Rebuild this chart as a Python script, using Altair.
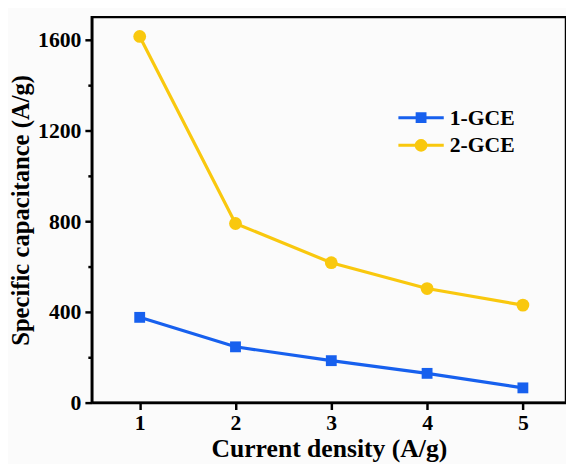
import altair as alt
import pandas as pd

density = [1, 2, 3, 4, 5]
cap_gce1 = [376, 246, 185, 129, 65]
cap_gce2 = [1615, 790, 617, 503, 430]
series_names = ["1-GCE", "2-GCE"]
series_colors = ["#1760EE", "#F9C80E"]
series_shapes = ["square", "circle"]
legend_paths = [
    "M-2.3,-0.15H-0.55V-0.55H0.55V-0.15H2.3V0.15H0.55V0.55H-0.55V0.15H-2.3Z",
    "M-2.3,-0.15H-0.632A0.65,0.65 0 0 1 0.632,-0.15H2.3V0.15H0.632A0.65,0.65 0 0 1 -0.632,0.15H-2.3Z",
]
x_ticks = [1, 1.5, 2, 2.5, 3, 3.5, 4, 4.5, 5]
y_ticks = [0, 200, 400, 600, 800, 1000, 1200, 1400, 1600]

df = pd.DataFrame({
    "density": density + density,
    "cap": cap_gce1 + cap_gce2,
    "series": [series_names[0]] * 5 + [series_names[1]] * 5,
})

FONT = "Liberation Serif"

x_enc = alt.X(
    "density:Q",
    scale=alt.Scale(domain=[0.5, 5.45], nice=False, zero=False),
    axis=alt.Axis(
        title="Current density (A/g)",
        values=x_ticks,
        format="d",
        labelExpr="datum.value % 1 === 0 ? datum.label : ''",
        tickSize={"condition": {"test": "datum.value % 1 === 0", "value": 7}, "value": 4},
        titlePadding=3,
        labelPadding=3,
        titleFontSize=26,
    ),
)
y_enc = alt.Y(
    "cap:Q",
    scale=alt.Scale(domain=[0, 1700], nice=False),
    axis=alt.Axis(
        title="Specific capacitance (A/g)",
        values=y_ticks,
        format="d",
        labelExpr="datum.value % 400 === 0 ? datum.label : ''",
        tickSize={"condition": {"test": "datum.value % 400 === 0", "value": 7}, "value": 4},
        titlePadding=4,
        labelPadding=4,
        titleFontSize=25,
    ),
)

base = alt.Chart(df)
layers = []
for name, col, shp in zip(series_names, series_colors, series_shapes):
    sub = base.transform_filter(alt.datum.series == name)
    layers.append(sub.mark_line(color=col, strokeWidth=3.2).encode(x=x_enc, y=y_enc))
    size = 121 if shp == "square" else 169
    layers.append(
        sub.mark_point(shape=shp, filled=True, color=col, size=size, opacity=1).encode(x=x_enc, y=y_enc)
    )

legend_layer = base.transform_filter("false").mark_point(filled=True, opacity=1).encode(
    x=x_enc,
    y=y_enc,
    color=alt.Color(
        "series:N",
        scale=alt.Scale(domain=series_names, range=series_colors),
        legend=alt.Legend(
            title=None,
            orient="none",
            legendX=323,
            legendY=91,
            symbolSize=400,
            labelOffset=18,
            rowPadding=6,
            padding=0,
            labelFont=FONT,
            labelFontSize=22,
            labelFontWeight="bold",
            labelColor="black",
            symbolOpacity=1,
            symbolStrokeWidth=0,
        ),
    ),
    shape=alt.Shape(
        "series:N",
        scale=alt.Scale(domain=series_names, range=legend_paths),
    ),
)
layers.append(legend_layer)

chart = alt.layer(*layers).properties(
    width=481,
    height=391,
    autosize=alt.AutoSizeParams(type="none"),
    padding={"left": 85, "top": 6, "right": 0, "bottom": 59},
    background="#fbfbfb",
).configure_view(
    stroke="black", strokeWidth=2.5
).configure_axis(
    grid=False,
    domainColor="black",
    domainWidth=2.5,
    tickColor="black",
    tickWidth=2.5,
    labelFont=FONT,
    labelFontSize=22,
    labelFontWeight="bold",
    labelColor="black",
    titleFont=FONT,
    titleFontWeight="bold",
    titleColor="black",
)

chart.save("out.html", embed_options={"renderer": "svg", "actions": False})
